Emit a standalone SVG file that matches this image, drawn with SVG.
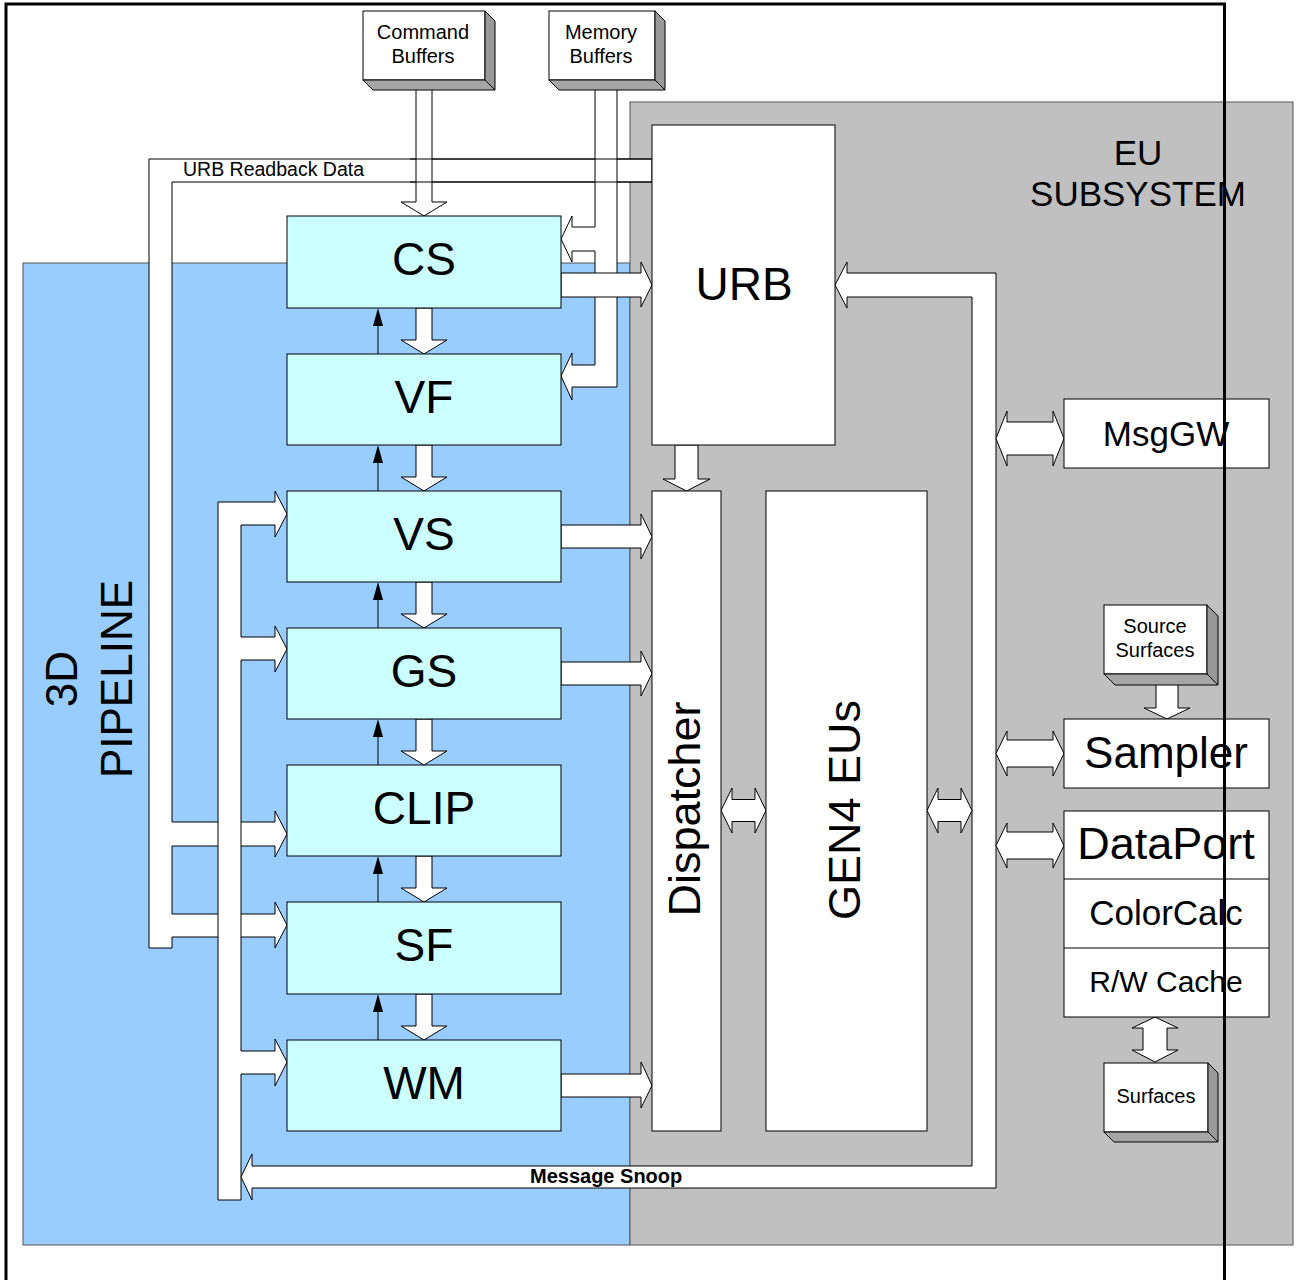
<svg xmlns="http://www.w3.org/2000/svg" width="1298" height="1280" viewBox="0 0 1298 1280">
<style>
text{font-family:"Liberation Sans",Arial,sans-serif;fill:#000;text-anchor:middle}
.stage{fill:#ccffff;stroke:#000;stroke-width:1}
.wbox{fill:#fff;stroke:#000;stroke-width:1}
.blk{fill:#fff;stroke:#000;stroke-width:1;stroke-linejoin:miter}
.side{fill:#999;stroke:#000;stroke-width:1}
.bot{fill:#a6a6a6;stroke:#000;stroke-width:1}
.big{font-size:46px}
.thin{stroke:#000;stroke-width:1;fill:none}
.tri{fill:#000}
</style>
<rect x="23" y="263" width="607" height="982" fill="#99ccff" stroke="#555" stroke-width="1"/>
<rect x="630" y="102" width="663" height="1143" fill="#c0c0c0" stroke="#555" stroke-width="1"/>
<text x="1138" y="165" style="font-size:35px">EU</text>
<text x="1138" y="206" style="font-size:35px">SUBSYSTEM</text>
<text transform="translate(77,679) rotate(-90)" style="font-size:44px">3D</text>
<text transform="translate(132,679) rotate(-90)" style="font-size:44px">PIPELINE</text>

<g id="connectors">
<polygon class="blk" points="149,159 652,159 652,182 172,182 172,822 275,822 275,811 287,834 275,857 275,846 172,846 172,914 275,914 275,902 287,925 275,948 275,937 172,937 172,948 149,948"/>
<polygon class="blk" points="218,502 275,502 275,491 287,514 275,537 275,525 241,525 241,637 275,637 275,626 287,649 275,672 275,660 241,660 241,1051 275,1051 275,1039 287,1062 275,1086 275,1074 241,1074 241,1200 218,1200"/>
<polygon class="blk" points="835,285 847,262 847,273 996,273 996,1188 252,1188 252,1200 241,1177 252,1154 252,1166 972,1166 972,297 847,297 847,308"/>
<polygon class="blk" points="416,80 416,202 401,202 424,216 447,202 432,202 432,80"/>
<polygon class="blk" points="595,80 595,227 572,227 572,216 561,239 572,262 572,251 595,251 595,365 572,365 572,353 561,376 572,400 572,387 617,387 617,80"/>
<line class="thin" x1="410" y1="159" x2="652" y2="159"/>
<line class="thin" x1="410" y1="182" x2="652" y2="182"/>
<polygon class="blk" points="561,273 641,273 641,262 652,285 641,307 641,297 561,297"/>
<polygon class="blk" points="561,525 641,525 641,514 652,536.5 641,559 641,548 561,548"/>
<polygon class="blk" points="561,662 641,662 641,651 652,673.5 641,696 641,685 561,685"/>
<polygon class="blk" points="561,1074 641,1074 641,1062 652,1085.5 641,1108 641,1097 561,1097"/>
<polygon class="blk" points="675,445 675,479 663,479 686.5,491 710,479 698,479 698,445"/>
<polygon class="blk" points="416,308 416,340 401,340 424,354 447,340 432,340 432,308"/>
<polygon class="blk" points="416,445 416,477 401,477 424,491 447,477 432,477 432,445"/>
<polygon class="blk" points="416,582 416,614 401,614 424,628 447,614 432,614 432,582"/>
<polygon class="blk" points="416,719 416,751 401,751 424,765 447,751 432,751 432,719"/>
<polygon class="blk" points="416,856 416,888 401,888 424,902 447,888 432,888 432,856"/>
<polygon class="blk" points="416,994 416,1026 401,1026 424,1040 447,1026 432,1026 432,994"/>
<line class="thin" x1="378" y1="354" x2="378" y2="320"/>
<polygon class="tri" points="378,308 373,326 383,326"/>
<line class="thin" x1="378" y1="491" x2="378" y2="457"/>
<polygon class="tri" points="378,445 373,463 383,463"/>
<line class="thin" x1="378" y1="628" x2="378" y2="594"/>
<polygon class="tri" points="378,582 373,600 383,600"/>
<line class="thin" x1="378" y1="765" x2="378" y2="731"/>
<polygon class="tri" points="378,719 373,737 383,737"/>
<line class="thin" x1="378" y1="902" x2="378" y2="868"/>
<polygon class="tri" points="378,856 373,874 383,874"/>
<line class="thin" x1="378" y1="1040" x2="378" y2="1006"/>
<polygon class="tri" points="378,994 373,1012 383,1012"/>
<polygon class="blk" points="721,810.5 732,788 732,799.5 755,799.5 755,788 766,810.5 755,833 755,821.5 732,821.5 732,833"/>
<polygon class="blk" points="927,810.5 938,788 938,799.5 961,799.5 961,788 972,810.5 961,833 961,821.5 938,821.5 938,833"/>
<polygon class="blk" points="996,438.5 1007,411 1007,422 1053,422 1053,411 1064,438.5 1053,466 1053,455 1007,455 1007,466"/>
<polygon class="blk" points="996,753.5 1007,731 1007,740 1053,740 1053,731 1064,753.5 1053,776 1053,767 1007,767 1007,776"/>
<polygon class="blk" points="996,845.5 1007,823 1007,832 1053,832 1053,823 1064,845.5 1053,868 1053,859 1007,859 1007,868"/>
<polygon class="blk" points="1156,680 1156,708 1144,708 1167,719 1190,708 1178,708 1178,680"/>
<polygon class="blk" points="1155,1017 1178,1028 1167,1028 1167,1050 1178,1050 1155,1062 1132,1050 1143,1050 1143,1028 1132,1028"/>
</g>

<g id="cmdbuf">
<rect class="wbox" x="363" y="11" width="122" height="69"/>
<polygon class="side" points="485,11 495,21 495,90 485,80"/>
<polygon class="bot" points="363,80 485,80 495,90 373,90"/>
<text x="423" y="39" style="font-size:20px">Command</text>
<text x="423" y="63" style="font-size:20px">Buffers</text>
</g>
<g id="membuf">
<rect class="wbox" x="549" y="11" width="106" height="69"/>
<polygon class="side" points="655,11 665,21 665,90 655,80"/>
<polygon class="bot" points="549,80 655,80 665,90 559,90"/>
<text x="601" y="39" style="font-size:20px">Memory</text>
<text x="601" y="63" style="font-size:20px">Buffers</text>
</g>
<text x="183" y="176" style="font-size:19.5px;text-anchor:start">URB Readback Data</text>
<text x="530" y="1183" style="font-size:20px;font-weight:bold;text-anchor:start">Message Snoop</text>

<g id="cs"><rect class="stage" x="287" y="216" width="274" height="92"/><text class="big" x="424" y="275">CS</text></g>
<g id="vf"><rect class="stage" x="287" y="354" width="274" height="91"/><text class="big" x="424" y="413">VF</text></g>
<g id="vs"><rect class="stage" x="287" y="491" width="274" height="91"/><text class="big" x="424" y="550">VS</text></g>
<g id="gs"><rect class="stage" x="287" y="628" width="274" height="91"/><text class="big" x="424" y="687">GS</text></g>
<g id="clip"><rect class="stage" x="287" y="765" width="274" height="91"/><text class="big" x="424" y="824">CLIP</text></g>
<g id="sf"><rect class="stage" x="287" y="902" width="274" height="92"/><text class="big" x="424" y="961">SF</text></g>
<g id="wm"><rect class="stage" x="287" y="1040" width="274" height="91"/><text class="big" x="424" y="1099">WM</text></g>

<g id="urb"><rect class="wbox" x="652" y="125" width="183" height="320"/><text class="big" x="744" y="300">URB</text></g>
<g id="dispatcher"><rect class="wbox" x="652" y="491" width="69" height="640"/><text transform="translate(700,809) rotate(-90)" style="font-size:45px">Dispatcher</text></g>
<g id="gen4eus"><rect class="wbox" x="766" y="491" width="161" height="640"/><text transform="translate(860,810) rotate(-90)" style="font-size:45px">GEN4 EUs</text></g>

<g id="msggw"><rect class="wbox" x="1064" y="399" width="205" height="69"/><text x="1166" y="446" style="font-size:35px">MsgGW</text></g>
<g id="srcsurf">
<rect class="wbox" x="1104" y="605" width="103" height="69"/>
<polygon class="side" points="1207,605 1218,616 1218,685 1207,674"/>
<polygon class="bot" points="1104,674 1207,674 1218,685 1115,685"/>
<text x="1155" y="633" style="font-size:20px">Source</text>
<text x="1155" y="657" style="font-size:20px">Surfaces</text>
</g>
<g id="sampler"><rect class="wbox" x="1064" y="719" width="205" height="69"/><text x="1166" y="768" style="font-size:44px">Sampler</text></g>
<g id="dataport">
<rect class="wbox" x="1064" y="811" width="205" height="206"/>
<line class="thin" x1="1064" y1="879" x2="1269" y2="879"/>
<line class="thin" x1="1064" y1="948" x2="1269" y2="948"/>
<text x="1166" y="859" style="font-size:45px">DataPort</text>
<text x="1166" y="925" style="font-size:35px">ColorCalc</text>
<text x="1166" y="992" style="font-size:30px">R/W Cache</text>
</g>
<g id="surfaces">
<rect class="wbox" x="1104" y="1063" width="104" height="69"/>
<polygon class="side" points="1208,1063 1218,1073 1218,1142 1208,1132"/>
<polygon class="bot" points="1104,1132 1208,1132 1218,1142 1114,1142"/>
<text x="1156" y="1103" style="font-size:20px">Surfaces</text>
</g>

<g id="frame" stroke="#000" stroke-width="3" fill="none">
<polyline points="6,1280 6,4 1224.5,4 1224.5,1280"/>
</g>
</svg>
